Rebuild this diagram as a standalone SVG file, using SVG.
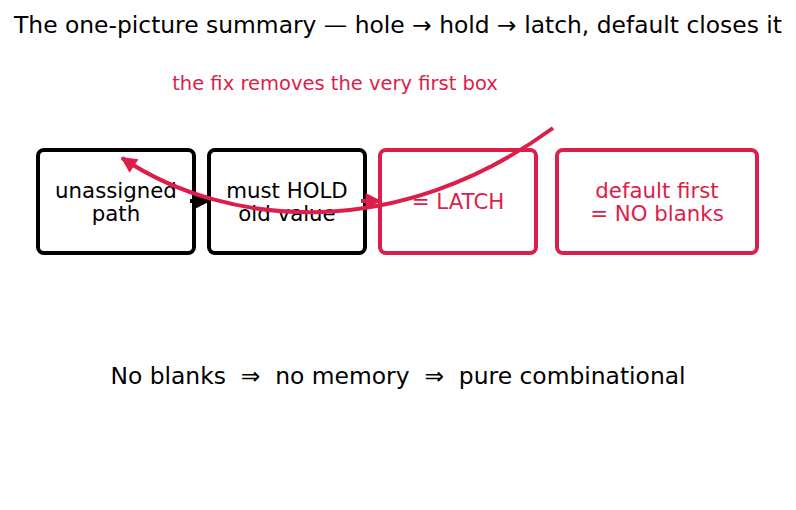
<svg xmlns="http://www.w3.org/2000/svg" width="796" height="510" viewBox="0 0 796 510">
<style>
text{font-family:"DejaVu Sans",sans-serif;text-anchor:middle}
.box{fill:#fff;stroke-width:4}
.k{stroke:#000}
.r{stroke:#DC1E4A}
.tk{fill:#000;font-size:21.3px}
.tr{fill:#DC1E4A;font-size:21.3px}
</style>
<defs>
<marker id="ak" viewBox="0 0 10 10" refX="9" refY="5" markerWidth="4.5" markerHeight="4" orient="auto" markerUnits="strokeWidth"><path d="M0,0L10,5L0,10z" fill="#000"/></marker>
<marker id="ar" viewBox="0 0 10 10" refX="9" refY="5" markerWidth="4.5" markerHeight="4" orient="auto" markerUnits="strokeWidth"><path d="M0,0L10,5L0,10z" fill="#DC1E4A"/></marker>
</defs>
<rect width="796" height="510" fill="#fff"/>
<text x="398" y="33" font-size="23.4" fill="#000">The one-picture summary — hole → hold → latch, default closes it</text>
<text x="335" y="90" font-size="19.5" fill="#DC1E4A">the fix removes the very first box</text>
<g id="n1"><rect class="box k" x="38" y="150" width="156" height="103" rx="6"/><text class="tk" x="116" y="198">unassigned</text><text class="tk" x="116" y="221">path</text></g>
<g id="n2"><rect class="box k" x="209" y="150" width="156" height="103" rx="6"/><text class="tk" x="287" y="198">must HOLD</text><text class="tk" x="287" y="221">old value</text></g>
<g id="n3"><rect class="box r" x="380" y="150" width="156" height="103" rx="6"/><text class="tr" x="458" y="209">= LATCH</text></g>
<g id="n4"><rect class="box r" x="557" y="150" width="200" height="103" rx="6"/><text class="tr" x="657" y="198">default first</text><text class="tr" x="657" y="221">= NO blanks</text></g>
<g id="connectors" fill="none">
<line x1="190" y1="201" x2="209" y2="201" stroke="#000" stroke-width="4" marker-end="url(#ak)"/>
<line x1="361" y1="201" x2="380" y2="201" stroke="#DC1E4A" stroke-width="4" marker-end="url(#ar)"/>
<path d="M553,128 C400,240 230,230 122,158" stroke="#DC1E4A" stroke-width="4" marker-end="url(#ar)"/>
</g>
<text x="398" y="384" font-size="23.4" fill="#000" xml:space="preserve">No blanks  ⇒  no memory  ⇒  pure combinational</text>
</svg>
